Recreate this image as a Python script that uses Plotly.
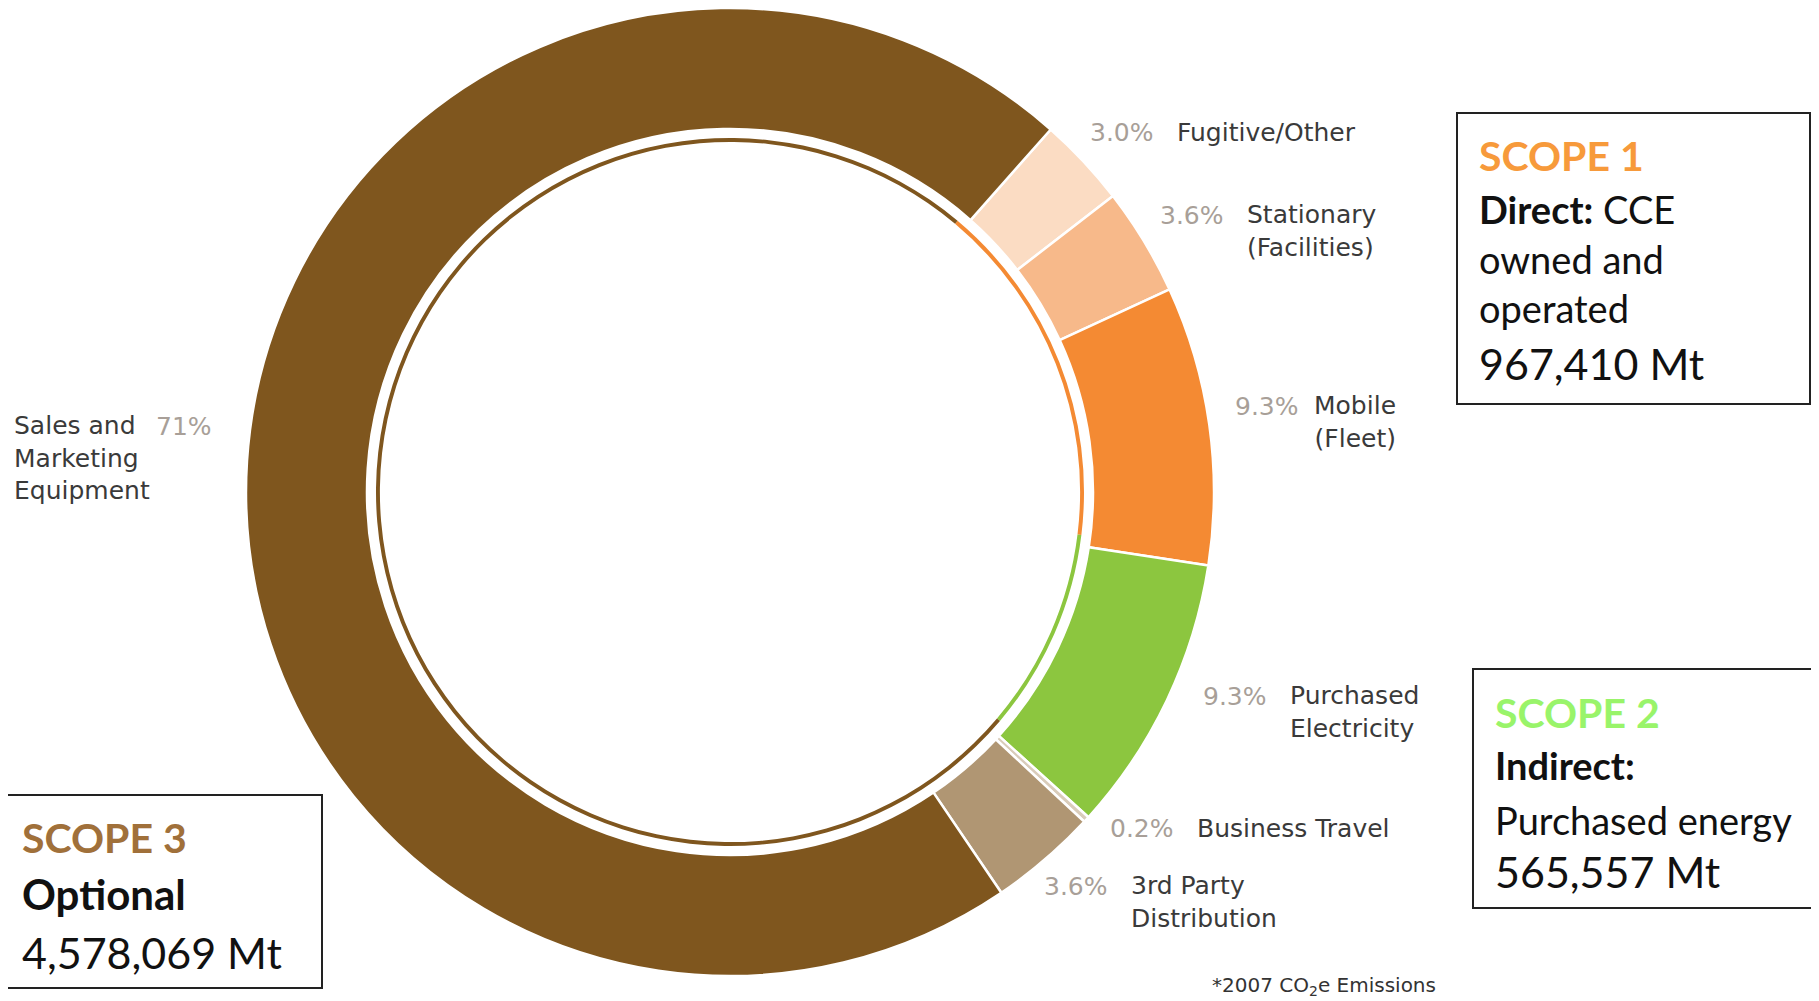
import plotly.graph_objects as go

W, H = 1819, 1001
OFF = 8  # page body margin offset compensation

# ---- data ----
categories = ["Fugitive/Other", "Stationary (Facilities)", "Mobile (Fleet)",
              "Purchased Electricity", "Business Travel", "3rd Party Distribution",
              "Sales and Marketing Equipment"]
shares = [3.0, 3.6, 9.3, 9.3, 0.2, 3.6, 71.0]
pct_labels = ["3.0%", "3.6%", "9.3%", "9.3%", "0.2%", "3.6%", "71%"]
slice_colors = ["#FBDCC3", "#F7B98A", "#F48A33", "#8CC63F", "#D9CCBA", "#B09673", "#7F561E"]

scopes = ["Scope 1", "Scope 2", "Scope 3"]
scope_mt = [967410, 565557, 4578069]
scope_colors = ["#F48A33", "#8CC63F", "#7F561E"]


def px(x):
    return (x - OFF) / W


def py(y):
    return 1 - (y - OFF) / H


fig = go.Figure()

# outer ring
cx, cy, R = 730, 492, 484
fig.add_trace(go.Pie(
    labels=categories, values=shares, sort=False, direction="clockwise",
    rotation=41.5, hole=0.75, textinfo="none", hoverinfo="label+percent",
    marker=dict(colors=slice_colors, line=dict(color="white", width=2.5)),
    domain=dict(x=[px(cx - R), px(cx + R)], y=[py(cy + R), py(cy - R)]),
    showlegend=False,
))

# inner thin scope ring
r2 = 354
fig.add_trace(go.Pie(
    labels=scopes, values=scope_mt, sort=False, direction="clockwise",
    rotation=40, hole=0.989, textinfo="none", hoverinfo="label+value",
    marker=dict(colors=scope_colors, line=dict(width=0)),
    domain=dict(x=[px(cx - r2), px(cx + r2)], y=[py(cy + r2), py(cy - r2)]),
    showlegend=False,
))

LBL = dict(family="DejaVu Sans", size=25, color="#3a3a3a")
PCT = dict(family="DejaVu Sans", size=25, color="#A89F98")

ann = []


def add(text, x, y, font, xanchor="left", align="left"):
    ann.append(dict(text=text, x=px(x), y=py(y), xref="paper", yref="paper",
                    xanchor=xanchor, yanchor="middle", showarrow=False,
                    font=font, align=align))


LINE = 32
add(pct_labels[0], 1088, 132, PCT)
add("Fugitive/Other", 1175, 132, LBL)

add(pct_labels[1], 1158, 215, PCT)
add("Stationary<br>(Facilities)", 1245, 215 + LINE / 2, LBL)

add(pct_labels[2], 1233, 406, PCT)
add("Mobile<br>(Fleet)", 1398, 406 + LINE / 2, LBL, xanchor="right", align="right")

add(pct_labels[3], 1201, 696, PCT)
add("Purchased<br>Electricity", 1288, 696 + LINE / 2, LBL)

add(pct_labels[4], 1108, 828, PCT)
add("Business Travel", 1195, 828, LBL)

add(pct_labels[5], 1042, 886, PCT)
add("3rd Party<br>Distribution", 1129, 886 + LINE / 2, LBL)

add("Sales and<br>Marketing<br>Equipment", 12, 426 + LINE, LBL)
add(pct_labels[6], 154, 426, PCT)

add("*2007 CO<sub>2</sub>e Emissions", 1438, 986,
    dict(family="DejaVu Sans", size=20, color="#333333"), xanchor="right")

# scope boxes
BOX = "Lato"
TXT = "#111111"
shapes = []


def box(x0, y0, x1, y1):
    shapes.append(dict(type="rect", xref="paper", yref="paper",
                       x0=px(x0), x1=px(x1), y0=py(y1), y1=py(y0),
                       line=dict(color="#222222", width=2), fillcolor="rgba(0,0,0,0)"))


box(1457, 113, 1810, 404)
add("<b>SCOPE 1</b>", 1477, 155, dict(family=BOX, size=41, color="#F79A3B"))
add("<b>Direct:</b> CCE", 1477, 209, dict(family=BOX, size=38, color=TXT))
add("owned and", 1477, 259, dict(family=BOX, size=38, color=TXT))
add("operated", 1477, 308, dict(family=BOX, size=38, color=TXT))
add("967,410 Mt", 1477, 363, dict(family=BOX, size=43, color=TXT))

box(1473, 669, 1817, 908)
add("<b>SCOPE 2</b>", 1493, 712, dict(family=BOX, size=41, color="#99F46A"))
add("<b>Indirect:</b>", 1493, 765, dict(family=BOX, size=38, color=TXT))
add("Purchased energy", 1493, 820, dict(family=BOX, size=38, color=TXT))
add("565,557 Mt", 1493, 871, dict(family=BOX, size=43, color=TXT))

box(3, 795, 322, 988)
add("<b>SCOPE 3</b>", 20, 837, dict(family=BOX, size=41, color="#A0703A"))
add("<b>Optional</b>", 20, 894, dict(family=BOX, size=42, color=TXT))
add("4,578,069 Mt", 20, 952, dict(family=BOX, size=43, color=TXT))

fig.update_layout(
    width=W, height=H, margin=dict(l=0, r=0, t=0, b=0),
    paper_bgcolor="white", plot_bgcolor="white",
    annotations=ann, shapes=shapes,
)

fig.write_html("out.html")
